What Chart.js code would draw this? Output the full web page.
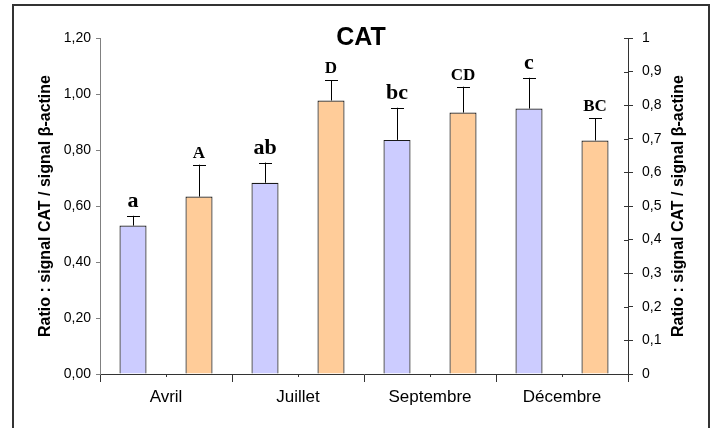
<!DOCTYPE html>
<html>
<head>
<meta charset="utf-8">
<script src="https://cdn.jsdelivr.net/npm/chart.js@4/dist/chart.umd.min.js"></script>
<style>
  body { margin: 0; background: #fff; overflow: hidden; }
  #frame { position: absolute; left: 12px; top: 4px; width: 694px; height: 500px; border: 2px solid #333; }
  #wrap { position: absolute; left: 0; top: 0; width: 717px; height: 428px; }
</style>
</head>
<body>
<div id="frame"></div>
<div id="wrap"><canvas id="chart" width="717" height="428"></canvas></div>
<script>
const months = ["Avril", "Juillet", "Septembre", "Décembre"];

// blue series, left axis
const blueValues = [0.53, 0.683, 0.836, 0.948];
const blueErrors = [0.035, 0.072, 0.115, 0.11];
const blueLetters = ["a", "ab", "bc", "c"];

// orange series, right axis
const orangeValues = [0.528, 0.814, 0.778, 0.695];
const orangeErrors = [0.095, 0.061, 0.077, 0.066];
const orangeLetters = ["A", "D", "CD", "BC"];

const errors = [blueErrors, orangeErrors];
const letters = [blueLetters, orangeLetters];
const letterFonts = ["bold 22px 'Liberation Serif', 'Times New Roman', serif", "bold 17px 'Liberation Serif', 'Times New Roman', serif"];
const letterGaps = [9, 7];

const axisTitle = "Ratio : signal CAT / signal β-actine";
const sans = "'Liberation Sans', Arial, sans-serif";

const overlay = {
  id: "overlay",
  afterDatasetsDraw(chart) {
    const ctx = chart.ctx;
    ctx.save();
    chart.data.datasets.forEach((ds, i) => {
      const meta = chart.getDatasetMeta(i);
      const scale = chart.scales[ds.yAxisID];
      meta.data.forEach((bar, j) => {
        const top = scale.getPixelForValue(ds.data[j] + errors[i][j]);
        ctx.strokeStyle = "#000";
        ctx.lineWidth = 1;
        ctx.beginPath();
        ctx.moveTo(Math.round(bar.x) + 0.5, bar.y);
        ctx.lineTo(Math.round(bar.x) + 0.5, top);
        ctx.moveTo(Math.round(bar.x) - 6, Math.round(top) + 0.5);
        ctx.lineTo(Math.round(bar.x) + 7, Math.round(top) + 0.5);
        ctx.stroke();
        ctx.fillStyle = "#000";
        ctx.font = letterFonts[i];
        ctx.textAlign = "center";
        ctx.textBaseline = "alphabetic";
        ctx.fillText(letters[i][j], bar.x, top - letterGaps[i]);
      });
    });
    ctx.restore();
  },
  afterDraw(chart) {
    const ctx = chart.ctx;
    const area = chart.chartArea;
    const y2 = chart.scales.y2;
    ctx.save();
    // inner half of the right axis ticks
    ctx.strokeStyle = "#333";
    ctx.lineWidth = 1;
    ctx.beginPath();
    y2.ticks.forEach(t => {
      const y = Math.round(y2.getPixelForValue(t.value)) + 0.5;
      ctx.moveTo(area.right - 4, y);
      ctx.lineTo(area.right, y);
    });
    ctx.stroke();

    ctx.fillStyle = "#000";
    ctx.textAlign = "center";
    ctx.textBaseline = "middle";
    ctx.font = "bold 25px " + sans;
    ctx.fillText("CAT", (area.left + area.right) / 2 - 3, area.top);

    // both axis titles read bottom to top
    ctx.font = "bold 16px " + sans;
    const midY = (area.top + area.bottom) / 2;
    [46, 679].forEach(x => {
      ctx.save();
      ctx.translate(x, midY);
      ctx.rotate(-Math.PI / 2);
      ctx.fillText(axisTitle, 0, 0);
      ctx.restore();
    });
    ctx.restore();
  }
};

new Chart(document.getElementById("chart").getContext("2d"), {
  type: "bar",
  data: {
    labels: months,
    datasets: [{
      data: blueValues,
      xAxisID: "x",
      yAxisID: "y",
      backgroundColor: "#CCCCFF",
      borderColor: "#1a1a1a",
      borderWidth: 1.2
    }, {
      data: orangeValues,
      xAxisID: "x",
      yAxisID: "y2",
      backgroundColor: "#FFCC99",
      borderColor: "#1a1a1a",
      borderWidth: 1.2
    }]
  },
  options: {
    responsive: false,
    animation: false,
    categoryPercentage: 1.0,
    barPercentage: 0.41,
    layout: { padding: { top: 38, left: 0, right: 0, bottom: 0 } },
    plugins: {
      legend: { display: false },
      title: { display: false },
      tooltip: { enabled: false }
    },
    scales: {
      x: {
        type: "category",
        position: "bottom",
        offset: true,
        afterFit: s => { s.height = 54; },
        grid: { display: true, drawOnChartArea: false, offset: true, tickLength: 8, color: "#333" },
        border: { color: "#333" },
        ticks: { color: "#000", font: { family: sans, size: 17 }, padding: 5, maxRotation: 0 }
      },
      x2: {
        type: "category",
        labels: months,
        position: "bottom",
        weight: -1,
        offset: true,
        afterFit: s => { s.height = 0; },
        grid: { display: true, drawOnChartArea: false, offset: false, tickLength: 3, color: "#333" },
        border: { display: false },
        ticks: { display: false }
      },
      y: {
        position: "left",
        min: 0,
        max: 1.2,
        afterFit: s => { s.width = 100; },
        grid: { display: true, drawOnChartArea: false, tickLength: 4, color: "#808080" },
        border: { color: "#808080" },
        ticks: {
          stepSize: 0.2,
          padding: 5,
          color: "#000",
          font: { family: sans, size: 14 },
          callback: v => v.toFixed(2).replace(".", ",")
        }
      },
      y2: {
        position: "right",
        min: 0,
        max: 1,
        afterFit: s => { s.width = 89; },
        grid: { display: true, drawOnChartArea: false, tickLength: 5, color: "#333" },
        border: { color: "#333" },
        ticks: {
          stepSize: 0.1,
          padding: 9,
          color: "#000",
          font: { family: sans, size: 14 },
          callback: v => String(Math.round(v * 10) / 10).replace(".", ",")
        }
      }
    }
  },
  plugins: [overlay]
});
</script>
</body>
</html>
